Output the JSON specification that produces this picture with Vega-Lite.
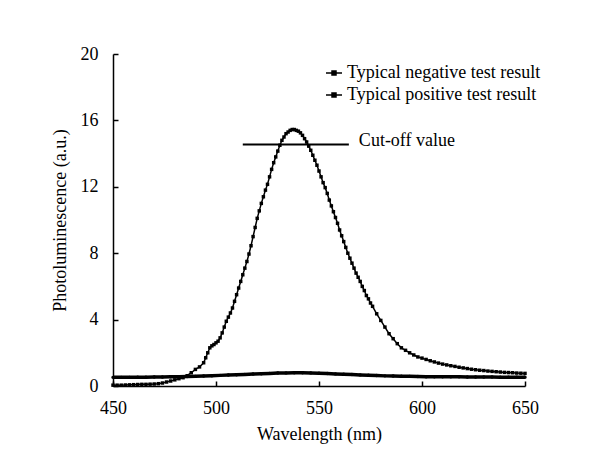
{
  "$schema": "https://vega.github.io/schema/vega-lite/v6.json",
  "width": 412,
  "height": 332,
  "autosize": {"type": "none"},
  "padding": {"left": 113, "top": 54, "right": 75, "bottom": 90},
  "background": "white",
  "config": {
    "font": "Liberation Serif",
    "view": {"stroke": null},
    "axis": {
      "domainColor": "black",
      "domainWidth": 1.5,
      "tickColor": "black",
      "tickWidth": 1.5,
      "tickSize": -5,
      "labelColor": "black",
      "labelFontSize": 18,
      "labelFlush": false,
      "titleFontSize": 18,
      "titleFontWeight": "normal",
      "titleColor": "black",
      "grid": false
    }
  },
  "datasets": {
    "curves": [
      {"series": "P", "w": 450, "v": 0.05}, {"series": "P", "w": 452, "v": 0.05}, {"series": "P", "w": 454, "v": 0.05}, {"series": "P", "w": 456, "v": 0.06}, {"series": "P", "w": 458, "v": 0.07}, {"series": "P", "w": 460, "v": 0.08}, {"series": "P", "w": 462, "v": 0.09}, {"series": "P", "w": 464, "v": 0.1}, {"series": "P", "w": 466, "v": 0.1}, {"series": "P", "w": 468, "v": 0.11}, {"series": "P", "w": 470, "v": 0.12}, {"series": "P", "w": 472, "v": 0.14}, {"series": "P", "w": 474, "v": 0.18}, {"series": "P", "w": 476, "v": 0.24}, {"series": "P", "w": 478, "v": 0.3}, {"series": "P", "w": 480, "v": 0.37}, {"series": "P", "w": 482, "v": 0.44}, {"series": "P", "w": 484, "v": 0.5}, {"series": "P", "w": 486, "v": 0.62}, {"series": "P", "w": 488, "v": 0.8}, {"series": "P", "w": 490, "v": 1.0}, {"series": "P", "w": 492, "v": 1.15}, {"series": "P", "w": 494, "v": 1.4}, {"series": "P", "w": 495, "v": 1.7}, {"series": "P", "w": 496, "v": 2.0}, {"series": "P", "w": 497, "v": 2.3}, {"series": "P", "w": 498, "v": 2.42}, {"series": "P", "w": 499, "v": 2.5},
      {"series": "P", "w": 500, "v": 2.6}, {"series": "P", "w": 501, "v": 2.7}, {"series": "P", "w": 502, "v": 2.9}, {"series": "P", "w": 503, "v": 3.2}, {"series": "P", "w": 504, "v": 3.55}, {"series": "P", "w": 505, "v": 3.9}, {"series": "P", "w": 506, "v": 4.15}, {"series": "P", "w": 507, "v": 4.4}, {"series": "P", "w": 508, "v": 4.7}, {"series": "P", "w": 509, "v": 5.1},
      {"series": "P", "w": 510, "v": 5.5}, {"series": "P", "w": 511, "v": 5.9}, {"series": "P", "w": 512, "v": 6.3}, {"series": "P", "w": 513, "v": 6.7}, {"series": "P", "w": 514, "v": 7.1}, {"series": "P", "w": 515, "v": 7.5}, {"series": "P", "w": 516, "v": 7.95}, {"series": "P", "w": 517, "v": 8.45}, {"series": "P", "w": 518, "v": 9.0}, {"series": "P", "w": 519, "v": 9.55},
      {"series": "P", "w": 520, "v": 10.1}, {"series": "P", "w": 521, "v": 10.55}, {"series": "P", "w": 522, "v": 11.0}, {"series": "P", "w": 523, "v": 11.4}, {"series": "P", "w": 524, "v": 11.8}, {"series": "P", "w": 525, "v": 12.15}, {"series": "P", "w": 526, "v": 12.6}, {"series": "P", "w": 527, "v": 13.05}, {"series": "P", "w": 528, "v": 13.45}, {"series": "P", "w": 529, "v": 13.8},
      {"series": "P", "w": 530, "v": 14.15}, {"series": "P", "w": 531, "v": 14.5}, {"series": "P", "w": 532, "v": 14.8}, {"series": "P", "w": 533, "v": 15.0}, {"series": "P", "w": 534, "v": 15.2}, {"series": "P", "w": 535, "v": 15.3}, {"series": "P", "w": 536, "v": 15.4}, {"series": "P", "w": 537, "v": 15.45}, {"series": "P", "w": 538, "v": 15.45}, {"series": "P", "w": 539, "v": 15.4},
      {"series": "P", "w": 540, "v": 15.35}, {"series": "P", "w": 541, "v": 15.25}, {"series": "P", "w": 542, "v": 15.1}, {"series": "P", "w": 543, "v": 14.9}, {"series": "P", "w": 544, "v": 14.7}, {"series": "P", "w": 545, "v": 14.45}, {"series": "P", "w": 546, "v": 14.2}, {"series": "P", "w": 547, "v": 13.9}, {"series": "P", "w": 548, "v": 13.6}, {"series": "P", "w": 549, "v": 13.3},
      {"series": "P", "w": 550, "v": 12.95}, {"series": "P", "w": 551, "v": 12.6}, {"series": "P", "w": 552, "v": 12.25}, {"series": "P", "w": 553, "v": 11.95}, {"series": "P", "w": 554, "v": 11.6}, {"series": "P", "w": 555, "v": 11.2}, {"series": "P", "w": 556, "v": 10.85}, {"series": "P", "w": 557, "v": 10.5}, {"series": "P", "w": 558, "v": 10.15}, {"series": "P", "w": 559, "v": 9.8},
      {"series": "P", "w": 560, "v": 9.4}, {"series": "P", "w": 561, "v": 9.05}, {"series": "P", "w": 562, "v": 8.7}, {"series": "P", "w": 563, "v": 8.35}, {"series": "P", "w": 564, "v": 8.0}, {"series": "P", "w": 565, "v": 7.7}, {"series": "P", "w": 566, "v": 7.4}, {"series": "P", "w": 567, "v": 7.1}, {"series": "P", "w": 568, "v": 6.8}, {"series": "P", "w": 569, "v": 6.55},
      {"series": "P", "w": 570, "v": 6.3}, {"series": "P", "w": 571, "v": 6.0}, {"series": "P", "w": 572, "v": 5.75}, {"series": "P", "w": 573, "v": 5.45}, {"series": "P", "w": 574, "v": 5.25}, {"series": "P", "w": 575, "v": 5.0}, {"series": "P", "w": 576, "v": 4.8}, {"series": "P", "w": 578, "v": 4.35},
      {"series": "P", "w": 580, "v": 3.95}, {"series": "P", "w": 582, "v": 3.55}, {"series": "P", "w": 584, "v": 3.15}, {"series": "P", "w": 586, "v": 2.85}, {"series": "P", "w": 588, "v": 2.55}, {"series": "P", "w": 590, "v": 2.3}, {"series": "P", "w": 592, "v": 2.15}, {"series": "P", "w": 594, "v": 2.0}, {"series": "P", "w": 596, "v": 1.87}, {"series": "P", "w": 598, "v": 1.75},
      {"series": "P", "w": 600, "v": 1.68}, {"series": "P", "w": 602, "v": 1.6}, {"series": "P", "w": 604, "v": 1.52}, {"series": "P", "w": 606, "v": 1.45}, {"series": "P", "w": 608, "v": 1.38}, {"series": "P", "w": 610, "v": 1.32}, {"series": "P", "w": 612, "v": 1.27}, {"series": "P", "w": 614, "v": 1.22}, {"series": "P", "w": 616, "v": 1.18}, {"series": "P", "w": 618, "v": 1.13},
      {"series": "P", "w": 620, "v": 1.09}, {"series": "P", "w": 622, "v": 1.05}, {"series": "P", "w": 624, "v": 1.01}, {"series": "P", "w": 626, "v": 0.98}, {"series": "P", "w": 628, "v": 0.95}, {"series": "P", "w": 630, "v": 0.93}, {"series": "P", "w": 632, "v": 0.9}, {"series": "P", "w": 634, "v": 0.88}, {"series": "P", "w": 636, "v": 0.86}, {"series": "P", "w": 638, "v": 0.84},
      {"series": "P", "w": 640, "v": 0.82}, {"series": "P", "w": 642, "v": 0.81}, {"series": "P", "w": 644, "v": 0.8}, {"series": "P", "w": 646, "v": 0.78}, {"series": "P", "w": 648, "v": 0.77}, {"series": "P", "w": 650, "v": 0.76},
      {"series": "N", "w": 450, "v": 0.52}, {"series": "N", "w": 454, "v": 0.52}, {"series": "N", "w": 458, "v": 0.52}, {"series": "N", "w": 462, "v": 0.53}, {"series": "N", "w": 466, "v": 0.53}, {"series": "N", "w": 470, "v": 0.54}, {"series": "N", "w": 474, "v": 0.54}, {"series": "N", "w": 478, "v": 0.55}, {"series": "N", "w": 482, "v": 0.56}, {"series": "N", "w": 486, "v": 0.57}, {"series": "N", "w": 490, "v": 0.58}, {"series": "N", "w": 494, "v": 0.6}, {"series": "N", "w": 498, "v": 0.62}, {"series": "N", "w": 502, "v": 0.64}, {"series": "N", "w": 506, "v": 0.66}, {"series": "N", "w": 510, "v": 0.68}, {"series": "N", "w": 514, "v": 0.7}, {"series": "N", "w": 518, "v": 0.72}, {"series": "N", "w": 522, "v": 0.74}, {"series": "N", "w": 526, "v": 0.76}, {"series": "N", "w": 530, "v": 0.78}, {"series": "N", "w": 534, "v": 0.79}, {"series": "N", "w": 538, "v": 0.8}, {"series": "N", "w": 542, "v": 0.8}, {"series": "N", "w": 546, "v": 0.79}, {"series": "N", "w": 550, "v": 0.77}, {"series": "N", "w": 554, "v": 0.75}, {"series": "N", "w": 558, "v": 0.73}, {"series": "N", "w": 562, "v": 0.71}, {"series": "N", "w": 566, "v": 0.69}, {"series": "N", "w": 570, "v": 0.67}, {"series": "N", "w": 574, "v": 0.65}, {"series": "N", "w": 578, "v": 0.63}, {"series": "N", "w": 582, "v": 0.61}, {"series": "N", "w": 586, "v": 0.6}, {"series": "N", "w": 590, "v": 0.59}, {"series": "N", "w": 594, "v": 0.58}, {"series": "N", "w": 598, "v": 0.57}, {"series": "N", "w": 602, "v": 0.56}, {"series": "N", "w": 606, "v": 0.56}, {"series": "N", "w": 610, "v": 0.55}, {"series": "N", "w": 614, "v": 0.55}, {"series": "N", "w": 618, "v": 0.55}, {"series": "N", "w": 622, "v": 0.54}, {"series": "N", "w": 626, "v": 0.54}, {"series": "N", "w": 630, "v": 0.54}, {"series": "N", "w": 634, "v": 0.54}, {"series": "N", "w": 638, "v": 0.53}, {"series": "N", "w": 642, "v": 0.53}, {"series": "N", "w": 646, "v": 0.53}, {"series": "N", "w": 650, "v": 0.53}
    ],
    "cutoff": [{"x": 513, "x2": 564.5, "y": 14.55, "label": "Cut-off value"}]
  },
  "layer": [
    {
      "data": {"name": "curves"},
      "transform": [{"filter": "datum.series == 'N'"}],
      "mark": {"type": "line", "strokeWidth": 3.5},
      "encoding": {
        "x": {"field": "w", "type": "quantitative", "scale": {"domain": [450, 650], "nice": false},
          "axis": {"values": [450, 500, 550, 600, 650], "title": "Wavelength (nm)", "labelPadding": 18, "titlePadding": 8}},
        "y": {"field": "v", "type": "quantitative", "scale": {"domain": [0, 20], "nice": false},
          "axis": {"values": [0, 2, 4, 6, 8, 10, 12, 14, 16, 18, 20], "labelExpr": "datum.value % 4 == 0 ? datum.label : ''", "title": "Photoluminescence (a.u.)", "labelPadding": 20, "titlePadding": 11}},
        "color": {"field": "series", "type": "nominal", "scale": {"domain": ["N", "P"], "range": ["black", "black"]},
          "legend": {
            "orient": "none", "legendX": 212, "legendY": 10, "title": null,
            "labelFontSize": 18, "labelColor": "black", "labelFont": "Liberation Serif", "labelLimit": 400,
            "rowPadding": 4, "symbolSize": 256, "symbolStrokeWidth": 1.5, "labelOffset": 4,
            "symbolType": "M-1,0H1M-0.25,-0.25H0.25V0.25H-0.25Z",
            "symbolFillColor": "black", "symbolStrokeColor": "black",
            "labelExpr": "datum.value == 'N' ? 'Typical negative test result' : 'Typical positive test result'"
          }}
      }
    },
    {
      "data": {"name": "curves"},
      "transform": [{"filter": "datum.series == 'P'"}],
      "mark": {"type": "line", "strokeWidth": 1.5},
      "encoding": {
        "x": {"field": "w", "type": "quantitative"},
        "y": {"field": "v", "type": "quantitative"},
        "color": {"field": "series", "type": "nominal"}
      }
    },
    {
      "data": {"name": "curves"},
      "transform": [{"filter": "datum.series == 'N'"}],
      "mark": {"type": "point", "shape": "circle", "filled": true, "color": "black", "opacity": 1, "size": 12},
      "encoding": {
        "x": {"field": "w", "type": "quantitative"},
        "y": {"field": "v", "type": "quantitative"}
      }
    },
    {
      "data": {"name": "curves"},
      "transform": [{"filter": "datum.series == 'P'"}],
      "mark": {"type": "point", "shape": "square", "filled": true, "color": "black", "opacity": 1, "size": 12},
      "encoding": {
        "x": {"field": "w", "type": "quantitative"},
        "y": {"field": "v", "type": "quantitative"}
      }
    },
    {
      "data": {"name": "cutoff"},
      "mark": {"type": "rule", "color": "black", "strokeWidth": 2},
      "encoding": {
        "x": {"field": "x", "type": "quantitative"},
        "x2": {"field": "x2"},
        "y": {"field": "y", "type": "quantitative"}
      }
    },
    {
      "data": {"name": "cutoff"},
      "mark": {"type": "text", "align": "left", "baseline": "middle", "fontSize": 18, "font": "Liberation Serif", "dx": 10, "dy": -3, "color": "black"},
      "encoding": {
        "x": {"field": "x2", "type": "quantitative"},
        "y": {"field": "y", "type": "quantitative"},
        "text": {"field": "label"}
      }
    }
  ]
}
